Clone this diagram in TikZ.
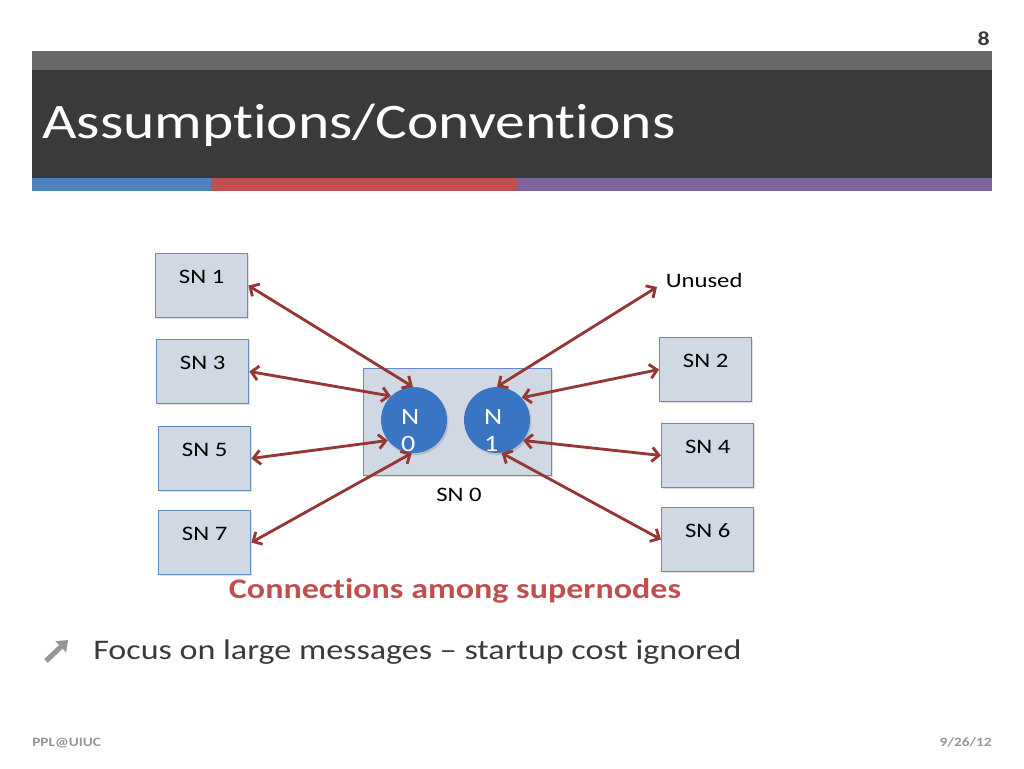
\documentclass[tikz,border=0pt]{standalone}
\usepackage{fontspec}
\setmainfont{Carlito}[FakeStretch=1.2, Ligatures=NoCommon]
\usetikzlibrary{
    arrows.meta,
    shadows
}

\definecolor{barGray}{RGB}{105,105,105}
\definecolor{barDark}{RGB}{58,58,58}
\definecolor{stripBlue}{RGB}{79,129,189}
\definecolor{stripRed}{RGB}{192,80,77}
\definecolor{stripPurple}{RGB}{128,100,162}
\definecolor{boxFill}{RGB}{208,216,228}
\definecolor{boxLine}{RGB}{100,138,194}
\definecolor{nodeBlue}{RGB}{58,117,196}
\definecolor{linkRed}{RGB}{149,55,53}
\definecolor{footGray}{RGB}{150,150,150}

\tikzset{
    snbox/.style={draw=boxLine, line width=0.8pt, fill=boxFill,
        drop shadow={opacity=0.25, shadow xshift=1pt, shadow yshift=-1pt},
        anchor=north west, minimum width=65pt, inner xsep=0pt, inner ysep=4pt,
        text height=17pt, text depth=20pt, font=\fontsize{14.5}{17}\selectfont},
    cpu/.style={circle, fill=nodeBlue, minimum size=46.5pt, inner sep=0pt,
        drop shadow={opacity=0.3, shadow xshift=1pt, shadow yshift=-1.5pt},
        text=white, text width=18pt, align=left, font=\fontsize{16.5}{19}\selectfont,
        text height=10pt, text depth=3pt},
    link/.style={draw=linkRed, line width=2pt,
        >={Straight Barb[length=5pt,width=10pt]}, <->}
}

\begin{document}
\begin{tikzpicture}[x=0.705pt, y=-0.705pt]

\useasboundingbox[fill=white] (0,0) rectangle (1024,768);

% Header bars
\fill[barGray] (32,51) rectangle (992,70);
\fill[barDark] (32,70) rectangle (992,178);
\fill[stripBlue] (32,178) rectangle (211,191);
\fill[stripRed] (211,178) rectangle (518,191);
\fill[stripPurple] (518,178) rectangle (992,191);
\node[anchor=base west, inner sep=0pt, text=white,
    font=\fontsize{35}{42}\selectfont] (title) at (42,138) {Assumptions/Conventions};
\node[anchor=base east, inner sep=0pt, text=barDark,
    font=\fontsize{14}{16}\selectfont\bfseries] (pagenum) at (990,45) {8};

% Supernode 0 with its two nodes
\node[draw=boxLine, line width=0.8pt, fill=boxFill, anchor=north west,
    minimum width=132.5pt, minimum height=75.4pt,
    drop shadow={opacity=0.25, shadow xshift=1pt, shadow yshift=-1pt}] (sn0box) at (363,368) {};
\node[font=\fontsize{14.5}{17}\selectfont] (sn0) at (459,495) {SN 0};
\node[cpu] (n0) at (414,420) {N\\0};
\node[cpu] (n1) at (497,420) {N\\1};

% Other supernodes
\node[snbox] (sn1) at (155,253) {SN 1};
\node[snbox] (sn3) at (156,339) {SN 3};
\node[snbox] (sn5) at (158,426) {SN 5};
\node[snbox] (sn7) at (158,510) {SN 7};
\node[snbox] (sn2) at (659,337) {SN 2};
\node[snbox] (sn4) at (661,423) {SN 4};
\node[snbox] (sn6) at (661,507) {SN 6};
\node[anchor=base west, inner xsep=6pt, font=\fontsize{14.5}{17}\selectfont] (unused) at (657,287) {Unused};

% Links
\draw[link] (sn1.east) -- (n0.92);
\draw[link] (sn3.east) -- (n0.134);
\draw[link] (sn5.east) -- (n0.218);
\draw[link] (sn7.east) -- (n0.266);
\draw[link] (unused.base west) -- (n1.90);
\draw[link] (sn2.west) -- (n1.42);
\draw[link] (sn4.west) -- (n1.-38);
\draw[link] (sn6.west) -- (n1.278);

% Caption and bullet
\node[text=stripRed, font=\fontsize{20}{24}\selectfont\bfseries] (caption) at (455,591) {Connections among supernodes};
\draw[footGray, line width=3.6pt, -{Triangle[length=7pt,width=10.5pt]}] (46,661) -- (68,640);
\node[anchor=base west, inner sep=0pt, text=barDark,
    font=\fontsize{20}{24}\selectfont] (focus) at (93,659) {Focus on large messages -- startup cost ignored};

% Footer
\node[anchor=base west, inner sep=0pt, text=footGray,
    font=\fontsize{9}{11}\selectfont\bfseries] (lab) at (32,746) {PPL@UIUC};
\node[anchor=base east, inner sep=0pt, text=footGray,
    font=\fontsize{9}{11}\selectfont\bfseries] (date) at (992,746) {9/26/12};

\end{tikzpicture}
\end{document}
